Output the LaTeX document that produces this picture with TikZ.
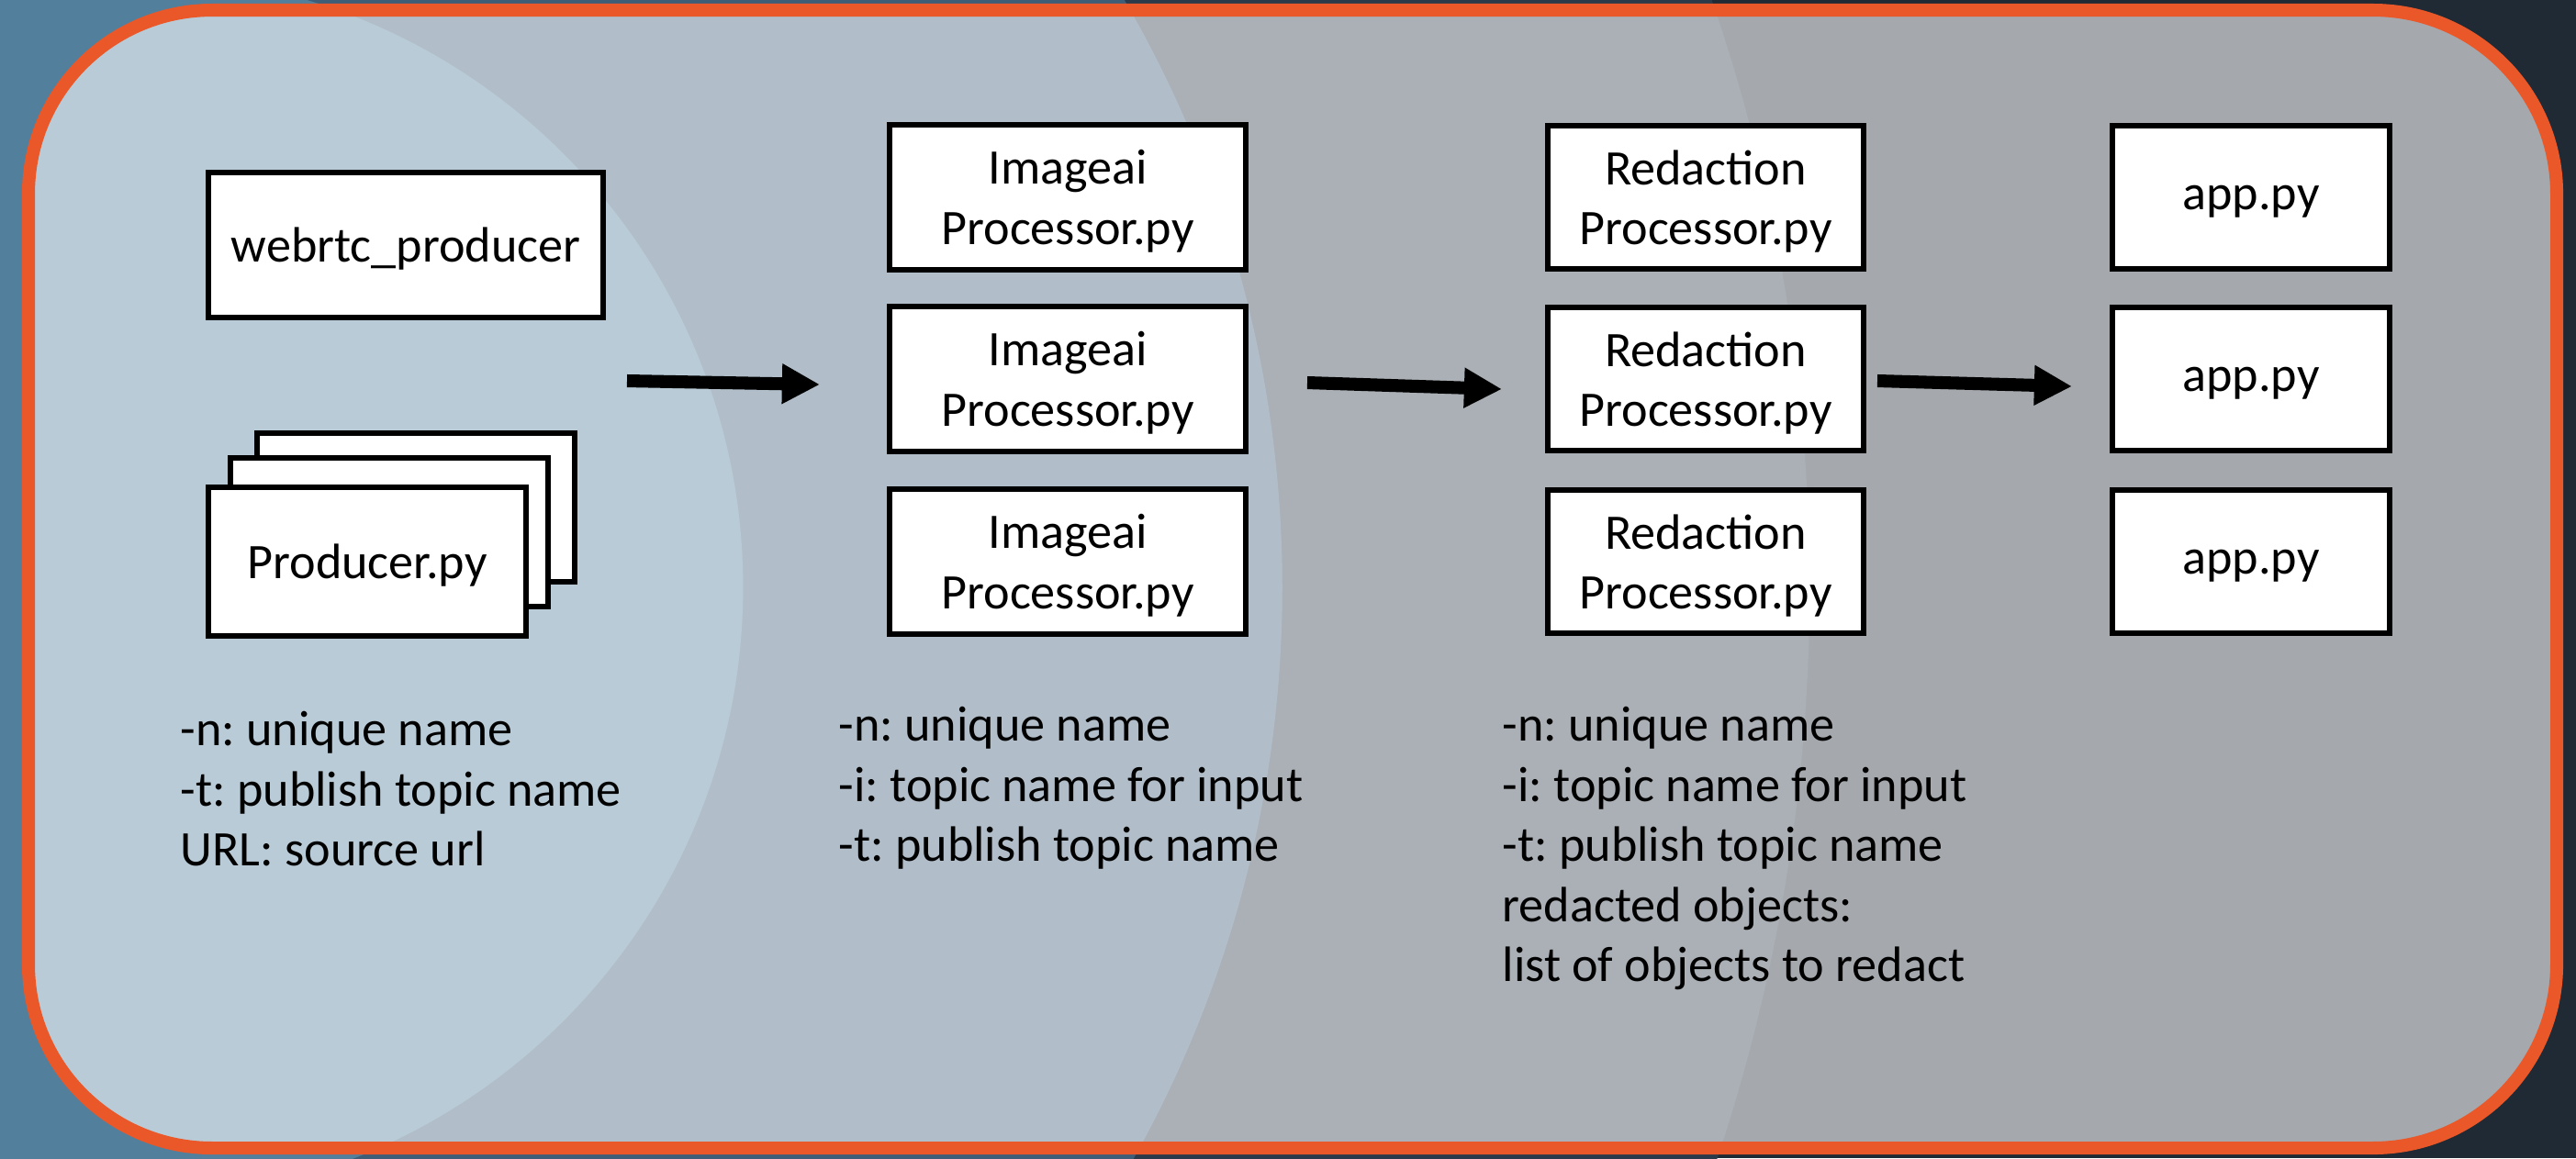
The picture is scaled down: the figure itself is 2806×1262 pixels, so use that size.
\documentclass[tikz,border=0pt]{standalone}
\usepackage{fontspec}
\setmainfont{Carlito}
\usetikzlibrary{arrows.meta}
\frenchspacing

\definecolor{bgdark}{HTML}{1F2A35}
\definecolor{bgmid}{HTML}{2B3A4A}
\definecolor{bgblue}{HTML}{3E5E78}
\definecolor{bglight}{HTML}{527F9C}
\definecolor{frameorange}{HTML}{EA5829}

\begin{document}
\begin{tikzpicture}[x=0.01cm, y=-0.01cm,
  every node/.style={font=\fontsize{15.4}{18.6}\selectfont},
  box/.style={draw=black, line width=1.7pt, fill=white, align=center, inner sep=0pt, text depth=0pt},
  notes/.style={anchor=north west, align=left, inner sep=0pt},
  flow/.style={line width=4pt, -{Triangle[length=11.7pt, width=11.7pt]}}]
  \useasboundingbox (0,0) rectangle (2806,1262);

  % Background layers
  \fill[bgdark] (0,0) rectangle (2806,1262);
  \begin{scope}
    \clip (0,0) rectangle (2806,1262);
    \fill[bgmid] (6,640) circle[radius=19.64cm];
    \fill[bgblue] (121,640) circle[radius=12.75cm];
    \fill[bglight] (141,640) circle[radius=6.68cm];
  \end{scope}

  % Frame
  \path[fill=white, fill opacity=0.6, draw=frameorange, line width=4pt, rounded corners=2cm]
    (31,11) rectangle (2785,1251);

  % Producers
  \node[box, minimum width=4.29cm, minimum height=1.57cm] (webrtc) at (442,267) {webrtc\_producer};
  \node[box, minimum width=3.46cm, minimum height=1.62cm] (prodC) at (453,553) {};
  \node[box, minimum width=3.46cm, minimum height=1.62cm] (prodB) at (424,580) {};
  \node[box, minimum width=3.46cm, minimum height=1.62cm] (prod) at (400,612) {Producer.py};

  % Processors and apps
  \foreach \i/\y in {1/215, 2/413, 3/612} {
    \node[box, minimum width=3.88cm, minimum height=1.57cm] (img\i) at (1163,\y) {Imageai\\Processor.py};
    \node[box, minimum width=3.43cm, minimum height=1.56cm] (red\i) at (1858,\y) {Redaction\\Processor.py};
    \node[box, minimum width=3.02cm, minimum height=1.56cm] (app\i) at (2452,\y) {app.py};
  }

  % Arrows
  \coordinate (a1s) at (683,415);
  \coordinate (a1e) at (893,419);
  \coordinate (a2s) at (1424,417);
  \coordinate (a2e) at (1636,424);
  \coordinate (a3s) at (2045,415);
  \coordinate (a3e) at (2257,421);
  \draw[flow] (a1s) -- (a1e);
  \draw[flow] (a2s) -- (a2e);
  \draw[flow] (a3s) -- (a3e);

  % Options
  \node[notes] (prodopts) at (196,775) {-n: unique name\\-t: publish topic name\\URL: source url};
  \node[notes] (imgopts) at (913,770) {-n: unique name\\-i: topic name for input\\-t: publish topic name};
  \node[notes] (redopts) at (1636,770) {-n: unique name\\-i: topic name for input\\-t: publish topic name\\redacted objects:\\list of objects to redact};
\end{tikzpicture}
\end{document}
